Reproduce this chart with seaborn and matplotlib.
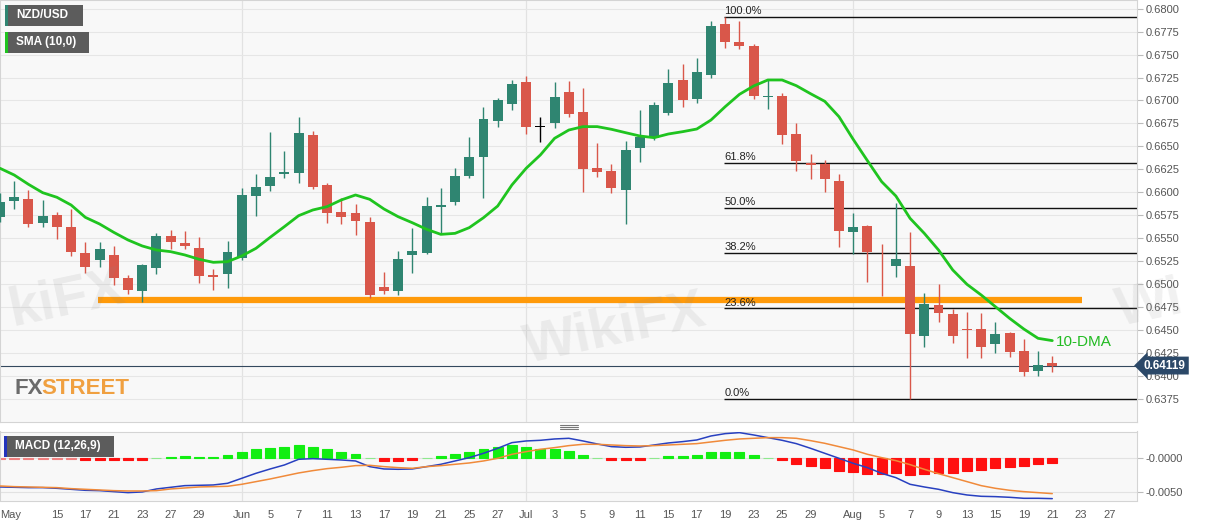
import numpy as np
import pandas as pd
import matplotlib.pyplot as plt
from matplotlib.patches import Rectangle
from matplotlib.lines import Line2D
import seaborn as sns

# NZD/USD daily candles, 2019-05-09 .. 2019-08-21 (weekdays)
opens = [
    0.65737, 0.65904, 0.65930, 0.65668, 0.65755, 0.65629, 0.65343, 0.65267, 0.65324, 0.65074,
    0.64926, 0.65183, 0.65524, 0.65455, 0.65401, 0.65103, 0.65114, 0.65292, 0.65965, 0.66067,
    0.66205, 0.66216, 0.66621, 0.66082, 0.65788, 0.65774, 0.65683, 0.64969, 0.64930, 0.65321,
    0.65339, 0.65843, 0.65901, 0.66183, 0.66382, 0.66777, 0.66958, 0.67205, 0.66719, 0.66759,
    0.67089, 0.66872, 0.66263, 0.66237, 0.66031, 0.66487, 0.66596, 0.66868, 0.67223, 0.67013,
    0.67274, 0.67832, 0.67640, 0.67589, 0.67038, 0.67049, 0.66636, 0.66324, 0.66310, 0.66129,
    0.65574, 0.65636, 0.65281, 0.65205, 0.65205, 0.64444, 0.64781, 0.64676, 0.64513, 0.64520,
    0.64350, 0.64473, 0.64281, 0.64060, 0.64143,
]
highs = [
    0.65991, 0.66125, 0.66027, 0.65915, 0.65788, 0.65824, 0.65466, 0.65459, 0.65422, 0.65100,
    0.65222, 0.65556, 0.65593, 0.65582, 0.65520, 0.65172, 0.65473, 0.66045, 0.66201, 0.66661,
    0.66451, 0.66817, 0.66665, 0.66107, 0.65937, 0.65875, 0.65737, 0.65136, 0.65368, 0.65618,
    0.65955, 0.66053, 0.66263, 0.66607, 0.66933, 0.67024, 0.67219, 0.67266, 0.66817, 0.67201,
    0.67212, 0.67140, 0.66535, 0.66310, 0.66564, 0.66897, 0.66987, 0.67346, 0.67393, 0.67466,
    0.67868, 0.67904, 0.67868, 0.67611, 0.67234, 0.67078, 0.66752, 0.66419, 0.66353, 0.66201,
    0.65774, 0.65647, 0.65440, 0.65890, 0.65567, 0.64904, 0.65000, 0.64730, 0.64705, 0.64687,
    0.64589, 0.64488, 0.64411, 0.64281, 0.64223,
]
lows = [
    0.65683, 0.65817, 0.65622, 0.65629, 0.65491, 0.65310, 0.65122, 0.65194, 0.64995, 0.64897,
    0.64814, 0.65114, 0.65386, 0.65382, 0.65020, 0.64940, 0.64959, 0.65267, 0.65745, 0.66020,
    0.66154, 0.66100, 0.66035, 0.65665, 0.65658, 0.65538, 0.64857, 0.64897, 0.64886, 0.65122,
    0.65332, 0.65556, 0.65864, 0.66154, 0.65937, 0.66716, 0.66897, 0.66632, 0.66553, 0.66698,
    0.66824, 0.66009, 0.66165, 0.65991, 0.65658, 0.66335, 0.66571, 0.66842, 0.66933, 0.66969,
    0.67241, 0.67574, 0.67560, 0.67016, 0.66908, 0.66527, 0.66237, 0.66143, 0.66009, 0.65411,
    0.65332, 0.65031, 0.64879, 0.65078, 0.63760, 0.64317, 0.64589, 0.64368, 0.64198, 0.64198,
    0.64252, 0.64209, 0.64006, 0.64006, 0.64045,
]
closes = [
    0.65901, 0.65948, 0.65661, 0.65748, 0.65622, 0.65350, 0.65194, 0.65390, 0.65074, 0.64937,
    0.65209, 0.65527, 0.65459, 0.65422, 0.65096, 0.65078, 0.65357, 0.65973, 0.66064, 0.66172,
    0.66219, 0.66643, 0.66064, 0.65774, 0.65730, 0.65687, 0.64886, 0.64933, 0.65274, 0.65368,
    0.65857, 0.65868, 0.66180, 0.66382, 0.66795, 0.67006, 0.67176, 0.66712, 0.66712, 0.67042,
    0.66850, 0.66252, 0.66227, 0.66053, 0.66458, 0.66600, 0.66948, 0.67187, 0.67006, 0.67310,
    0.67813, 0.67636, 0.67596, 0.67049, 0.67045, 0.66625, 0.66346, 0.66303, 0.66147, 0.65578,
    0.65621, 0.65350, 0.65274, 0.65277, 0.64458, 0.64788, 0.64687, 0.64437, 0.64506, 0.64324,
    0.64462, 0.64267, 0.64053, 0.64125, 0.64119,
]
sma10 = [
    0.66263, 0.66190, 0.66089, 0.65998, 0.65948, 0.65864, 0.65730, 0.65658, 0.65567, 0.65484,
    0.65419, 0.65375, 0.65357, 0.65321, 0.65274, 0.65241, 0.65248, 0.65310, 0.65393, 0.65513,
    0.65629, 0.65748, 0.65810, 0.65846, 0.65919, 0.65973, 0.65926, 0.65821, 0.65737, 0.65671,
    0.65600, 0.65545, 0.65556, 0.65618, 0.65726, 0.65853, 0.66082, 0.66263, 0.66408, 0.66589,
    0.66679, 0.66716, 0.66716, 0.66687, 0.66650, 0.66614, 0.66596, 0.66636, 0.66661, 0.66690,
    0.66788, 0.66933, 0.67067, 0.67158, 0.67223, 0.67223, 0.67161, 0.67074, 0.66991, 0.66824,
    0.66578, 0.66346, 0.66118, 0.65962, 0.65719, 0.65556, 0.65375, 0.65158, 0.65002, 0.64886,
    0.64759, 0.64632, 0.64516, 0.64415, 0.64390,
]

# MACD (12,26,9)
macd = [
    -0.00430, -0.00435, -0.00440, -0.00440, -0.00450, -0.00465, -0.00480, -0.00485, -0.00500, -0.00515,
    -0.00505, -0.00460, -0.00435, -0.00410, -0.00405, -0.00400, -0.00375, -0.00300, -0.00225, -0.00160,
    -0.00100, -0.00015, -0.00005, -0.00015, -0.00025, -0.00040, -0.00125, -0.00160, -0.00165, -0.00160,
    -0.00125, -0.00090, -0.00040, 0.00010, 0.00075, 0.00150, 0.00235, 0.00260, 0.00270, 0.00290,
    0.00300, 0.00260, 0.00215, 0.00175, 0.00165, 0.00170, 0.00200, 0.00230, 0.00250, 0.00275,
    0.00335, 0.00370, 0.00385, 0.00350, 0.00310, 0.00270, 0.00220, 0.00150, 0.00075, 0.00000,
    -0.00075, -0.00140, -0.00225, -0.00290, -0.00390, -0.00430, -0.00465, -0.00515, -0.00550, -0.00570,
    -0.00575, -0.00585, -0.00600, -0.00600, -0.00605,
]
signal = [
    -0.00415, -0.00425, -0.00430, -0.00435, -0.00440, -0.00455, -0.00465, -0.00475, -0.00485, -0.00490,
    -0.00490, -0.00485, -0.00460, -0.00445, -0.00430, -0.00425, -0.00420, -0.00390, -0.00350, -0.00310,
    -0.00265, -0.00220, -0.00185, -0.00155, -0.00135, -0.00110, -0.00105, -0.00125, -0.00140, -0.00150,
    -0.00125, -0.00110, -0.00090, -0.00070, -0.00040, 0.00000, 0.00060, 0.00100, 0.00135, 0.00160,
    0.00190, 0.00210, 0.00210, 0.00200, 0.00190, 0.00185, 0.00190, 0.00200, 0.00210, 0.00220,
    0.00245, 0.00270, 0.00290, 0.00300, 0.00310, 0.00310, 0.00300, 0.00265, 0.00225, 0.00175,
    0.00125, 0.00060, 0.00010, -0.00035, -0.00095, -0.00165, -0.00230, -0.00290, -0.00350, -0.00410,
    -0.00450, -0.00480, -0.00500, -0.00515, -0.00530,
]
hist = [
    -0.00010, -0.00010, -0.00010, -0.00010, -0.00010, -0.00010, -0.00030, -0.00030, -0.00030, -0.00030,
    -0.00030, 0.00010, 0.00025, 0.00040, 0.00025, 0.00025, 0.00050, 0.00100, 0.00140, 0.00160,
    0.00175, 0.00200, 0.00175, 0.00135, 0.00100, 0.00065, 0.00005, -0.00040, -0.00040, -0.00030,
    0.00005, 0.00030, 0.00065, 0.00100, 0.00140, 0.00175, 0.00200, 0.00175, 0.00145, 0.00145,
    0.00115, 0.00055, 0.00005, -0.00020, -0.00020, -0.00020, 0.00005, 0.00035, 0.00035, 0.00055,
    0.00095, 0.00100, 0.00095, 0.00050, 0.00005, -0.00030, -0.00085, -0.00120, -0.00150, -0.00190,
    -0.00210, -0.00230, -0.00230, -0.00225, -0.00255, -0.00240, -0.00220, -0.00215, -0.00190, -0.00170,
    -0.00150, -0.00125, -0.00110, -0.00090, -0.00070,
]

tick_pos = [0, 4, 6, 8, 10, 12, 14, 17, 19, 21, 23, 25, 27, 29, 31, 33, 35,
            37, 39, 41, 43, 45, 47, 49, 51, 53, 55, 57, 60, 62, 64, 66, 68, 70, 72, 74, 76, 78]
tick_labels = ["May", "15", "17", "21", "23", "27", "29", "Jun", "5", "7", "11", "13", "17", "19",
               "21", "25", "27", "Jul", "3", "5", "9", "11", "15", "17", "19", "23", "25", "29",
               "Aug", "5", "7", "9", "13", "15", "19", "21", "23", "27"]

fib_ratios = [1.0, 0.618, 0.5, 0.382, 0.236, 0.0]
fib_labels = ["100.0%", "61.8%", "50.0%", "38.2%", "23.6%", "0.0%"]
swing_high = 0.67911
swing_low = 0.63760
support = 0.6483
last_price = 0.64119
cursor_day = 38  # mouse crosshair sits on this candle

GREEN = "#2f8571"
RED = "#d9574a"

sns.set_style("white")
plt.rcParams["font.family"] = ["Liberation Sans", "DejaVu Sans"]

W, H = 1207, 526
fig = plt.figure(figsize=(W / 100, H / 100), dpi=100)
ax = fig.add_axes([0, 1 - 422 / H, 1137 / W, 422 / H])
ax_m = fig.add_axes([0, 1 - 500.5 / H, 1137 / W, 69 / H], sharex=ax)

df = pd.DataFrame({"open": opens, "high": highs, "low": lows, "close": closes, "sma": sma10})
df["idx"] = np.arange(len(df))
colors = np.where(df["close"] >= df["open"], GREEN, RED).tolist()
colors[cursor_day] = "black"

for a in (ax, ax_m):
    a.set_facecolor("#f8f8f8")
    for s in a.spines.values():
        s.set_color("#d4d4d4")
        s.set_linewidth(0.8)
    for p, lab in zip(tick_pos, tick_labels):
        if lab.isalpha() and p > 0:
            a.axvline(p, color="#e2e2e2", lw=0.9, zorder=0)

# price panel
ax.set_xlim(0, 1137 / 14.22)
ax.set_ylim(0.635054, 0.680924)
yt = np.arange(0.6375, 0.68001, 0.0025)
ax.set_yticks(yt)
ax.set_yticklabels([f"{v:.4f}" for v in yt])
ax.yaxis.tick_right()
ax.tick_params(axis="y", labelsize=8, labelcolor="#555555", color="#bbbbbb", length=4, pad=2)
ax.tick_params(axis="x", bottom=False, labelbottom=False)
for v in yt:
    ax.axhline(v, color="#e6e6e6", lw=0.8, zorder=0)

fib_levels = [swing_low + r * (swing_high - swing_low) for r in fib_ratios]
fib_start = 50.9
ax.hlines(fib_levels, fib_start, 80, color="#111111", lw=1, zorder=2)
for lvl, lab in zip(fib_levels, fib_labels):
    ax.text(fib_start + 0.05, lvl + 0.00008, lab, fontsize=8, color="#222222",
            va="bottom", ha="left", zorder=6)

ax.hlines(support, 6.9, 76.1, color="#ff9a0a", lw=4.5, zorder=2)
ax.axhline(last_price, color="#34495e", lw=0.8, zorder=2)

ax.vlines(df["idx"], df["low"], df["high"], colors=colors, lw=1, zorder=3)
body_low = np.minimum(df["open"], df["close"])
body_h = np.maximum((df["close"] - df["open"]).abs(), 0.00008)
ax.bar(df["idx"], body_h, bottom=body_low, width=0.7, color=colors, lw=0, zorder=4)

sns.lineplot(x=df["idx"], y=df["sma"], ax=ax, color="#1fc41f", lw=2, zorder=5, legend=False)
ax.set_xlabel("")
ax.set_ylabel("")
ax.text(74.25, 0.64375, "10-DMA", color="#22bb22", fontsize=11, va="center", ha="left", zorder=6)

ax.annotate(f"{last_price:.5f}", xy=(1.0, last_price), xycoords=("axes fraction", "data"),
            xytext=(5, 0), textcoords="offset points", ha="left", va="center",
            color="white", fontsize=8.5, fontweight="bold", zorder=10, annotation_clip=False,
            bbox=dict(boxstyle="larrow,pad=0.25", fc="#2b4868", ec="none"))

# MACD panel
m_idx = np.arange(len(hist))
h_cols = []
for v in hist:
    if v >= 0:
        h_cols.append("#8ee88e" if v <= 0.0001 else "#12ee12")
    else:
        h_cols.append("#f08080" if v >= -0.0001 else "#ff1010")
ax_m.bar(m_idx, hist, width=0.7, color=h_cols, edgecolor=h_cols, lw=0.8, zorder=2)
sns.lineplot(x=m_idx, y=macd, ax=ax_m, color="#2840c0", lw=1.1, zorder=3, legend=False)
sns.lineplot(x=m_idx, y=signal, ax=ax_m, color="#f08a3a", lw=1.1, zorder=3, legend=False)
ax_m.set_ylim(-0.00633, 0.00402)
ax_m.set_yticks([0.0, -0.005])
ax_m.set_yticklabels(["-0.0000", "-0.0050"])
for v in (0.0, -0.005):
    ax_m.axhline(v, color="#e2e2e2", lw=0.8, zorder=0)
ax_m.yaxis.tick_right()
ax_m.tick_params(axis="y", labelsize=8, labelcolor="#555555", color="#bbbbbb", length=4, pad=2)
ax_m.set_xticks(tick_pos)
ax_m.set_xticklabels(tick_labels)
ax_m.tick_params(axis="x", labelsize=8, labelcolor="#555555", color="#bbbbbb", length=4, pad=3)
ax_m.get_xticklabels()[0].set_ha("left")
ax_m.set_xlabel("")
ax_m.set_ylabel("")


def tag(x, y, w, h, text, stripe):
    fig.add_artist(Rectangle((x / W, 1 - (y + h) / H), w / W, h / H, transform=fig.transFigure,
                             fc="#5c5c5c", ec="none", zorder=20))
    fig.add_artist(Rectangle((x / W, 1 - (y + h) / H), 2.5 / W, h / H, transform=fig.transFigure,
                             fc=stripe, ec="none", zorder=21))
    fig.text((x + 11) / W, 1 - (y + h / 2) / H, text, color="white", fontsize=8.5,
             fontweight="bold", va="center", ha="left", zorder=22)


tag(5, 5, 78, 21, "NZD/USD", GREEN)
tag(5, 32, 84, 21, "SMA (10,0)", "#1fc41f")
tag(4, 436, 110, 21, "MACD (12,26,9)", "#2233bb")

# panel resize handle
for yy in (424.5, 426.5, 428.5):
    fig.add_artist(Line2D([560 / W, 578 / W], [1 - yy / H, 1 - yy / H], color="#777777", lw=0.8))

# FXStreet logo and faint watermarks
fig.text(15 / W, 1 - 388 / H, "FX", color="#6b6b6b", fontsize=16, fontweight="bold", va="center")
fig.text(41 / W, 1 - 388 / H, "STREET", color="#f0a040", fontsize=16, fontweight="bold", va="center")
for (wx, wy, wt) in ((4, 300, "kiFX"), (520, 330, "WikiFX"), (1112, 305, "Wi")):
    fig.text(wx / W, 1 - wy / H, wt, color="#888888", alpha=0.12, fontsize=40,
             fontweight="bold", rotation=12, va="center", ha="left", zorder=1)

fig.savefig("out.png", dpi=100)
